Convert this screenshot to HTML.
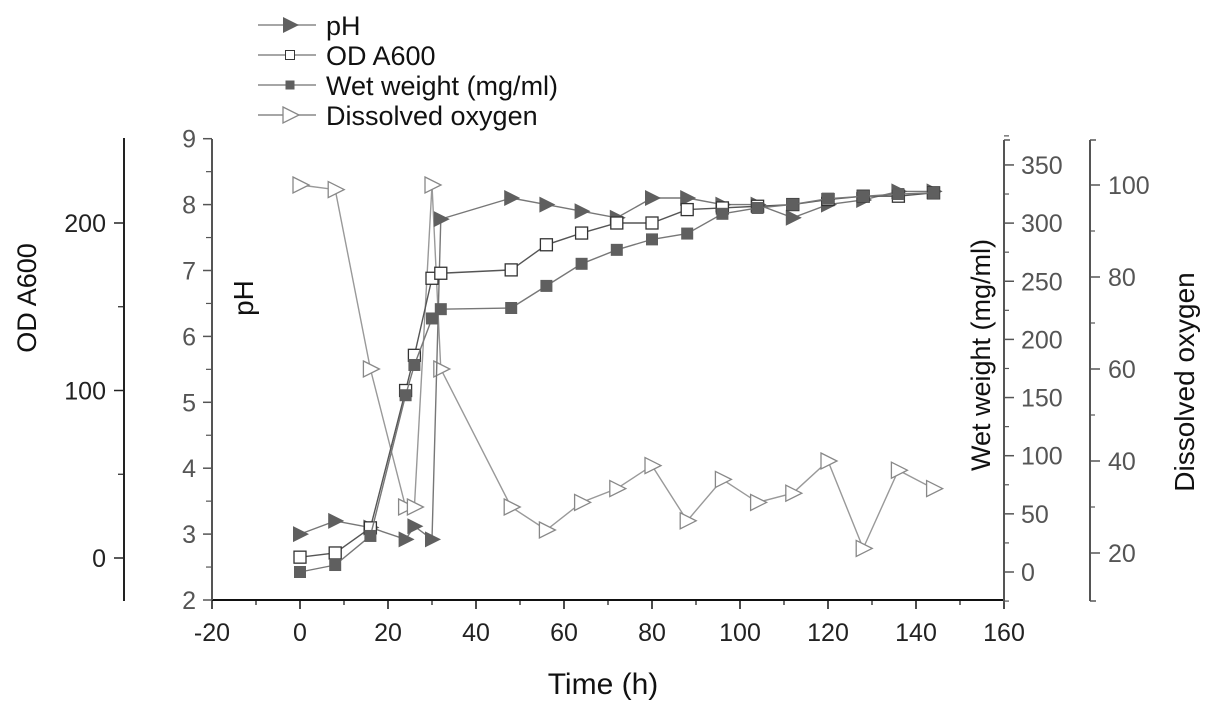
<!DOCTYPE html>
<html><head><meta charset="utf-8"><style>
body{margin:0;background:#fff;}
svg{display:block;font-family:"Liberation Sans",Arial,sans-serif;}
</style></head><body>
<svg id="chart" width="1205" height="709" viewBox="0 0 1205 709" xmlns="http://www.w3.org/2000/svg">
<g id="axes"></g>
<g id="series"></g>
<g id="legend"></g>
</svg>
<script>
const timeH = [0,8,16,24,26,30,32,48,56,64,72,80,88,96,104,112,120,128,136,144];
const pHVals = [3.0,3.2,3.1,2.92,3.12,2.92,7.78,8.1,8.0,7.9,7.8,8.1,8.1,8.0,8.0,7.8,8.0,8.07,8.2,8.2];
const odVals = [0.5,3,18,100,121,167,170,172,187,194,200,200,208,209,210,211,214,216,216,218];
const wwVals = [0,6,31,152,178,218,226,227,246,265,277,286,291,308,313,316,321,323,325,326];
const doTime = [0,8,16,24,26,30,32,48,56,64,72,80,88,96,104,112,120,128,136,144];
const doVals = [100,99,60,30,30,100,60,30,25,31,34,39,27,36,31,33,40,21,38,34];
const xTicks = [-20,0,20,40,60,80,100,120,140,160];
const pHTicks = [2,3,4,5,6,7,8,9];
const odTicks = [0,100,200];
const wwTicks = [0,50,100,150,200,250,300,350];
const doTicks = [20,40,60,80,100];

const NS="http://www.w3.org/2000/svg";
const X = t => 300 + (t)*4.4;
const YpH = v => 600 - (v-2)*65.9;
const YOD = v => 558 - v*1.675;
const YWW = v => 572 - v*1.163;
const YDO = v => 553 - (v-20)*4.6;
function mk(tag, attrs, parent){const e=document.createElementNS(NS,tag);for(const k in attrs)e.setAttribute(k,attrs[k]);parent.appendChild(e);return e;}
const axes=document.getElementById('axes'), ser=document.getElementById('series'), leg=document.getElementById('legend');
const AX='#555', TX='#555', FS=25;

// X axis
let e=mk('line',{x1:212,y1:600,x2:1004,y2:600,stroke:'#111','stroke-width':2},axes);

xTicks.forEach((t,i)=>{
  mk('line',{x1:X(t),y1:600,x2:X(t),y2:609,stroke:'#111','stroke-width':1.5},axes);
  if(i<xTicks.length-1) mk('line',{x1:X(t+10),y1:600,x2:X(t+10),y2:605,stroke:'#111','stroke-width':1.2},axes);
  const tx=mk('text',{x:X(t),y:641,'text-anchor':'middle','font-size':FS,fill:'#222'},axes);tx.textContent=t;
  
});
e=mk('text',{x:603,y:694,'text-anchor':'middle','font-size':30,fill:'#111'},axes);e.textContent='Time (h)';


// pH axis
e=mk('line',{x1:212,y1:139,x2:212,y2:600,stroke:AX,'stroke-width':2},axes);

pHTicks.forEach(v=>{
  mk('line',{x1:203,y1:YpH(v),x2:212,y2:YpH(v),stroke:AX,'stroke-width':1.5},axes);
  if(v<9) mk('line',{x1:206,y1:YpH(v+0.5),x2:212,y2:YpH(v+0.5),stroke:AX,'stroke-width':1.2},axes);
  const tx=mk('text',{x:196,y:YpH(v)+9,'text-anchor':'end','font-size':FS,fill:TX},axes);tx.textContent=v;
  
});
e=mk('text',{x:0,y:0,'text-anchor':'middle','font-size':28,fill:'#111',transform:'translate(253,298) rotate(-90)'},axes);e.textContent='pH';


// OD axis
e=mk('line',{x1:124,y1:138,x2:124,y2:601,stroke:'#222','stroke-width':2},axes);

odTicks.forEach(v=>{
  mk('line',{x1:114,y1:YOD(v),x2:124,y2:YOD(v),stroke:'#222','stroke-width':1.5},axes);
  if(v<200) mk('line',{x1:118,y1:YOD(v+50),x2:124,y2:YOD(v+50),stroke:'#222','stroke-width':1.2},axes);
  const tx=mk('text',{x:106,y:YOD(v)+9,'text-anchor':'end','font-size':FS,fill:'#222'},axes);tx.textContent=v;
  
});
e=mk('text',{x:0,y:0,'text-anchor':'middle','font-size':27,fill:'#111',transform:'translate(36,298) rotate(-90)'},axes);e.textContent='OD A600';


// Wet weight axis
e=mk('line',{x1:1004,y1:140,x2:1004,y2:603,stroke:AX,'stroke-width':2},axes);

mk('line',{x1:1004,y1:140,x2:1010,y2:140,stroke:AX,'stroke-width':1.5},axes);
wwTicks.forEach(v=>{
  mk('line',{x1:1004,y1:YWW(v),x2:1014,y2:YWW(v),stroke:AX,'stroke-width':1.5},axes);
  mk('line',{x1:1004,y1:YWW(v+25),x2:1009,y2:YWW(v+25),stroke:AX,'stroke-width':1.2},axes);
  const tx=mk('text',{x:1021,y:YWW(v)+9,'font-size':FS,fill:TX},axes);tx.textContent=v;
  
});
mk('line',{x1:1004,y1:YWW(-25),x2:1009,y2:YWW(-25),stroke:AX,'stroke-width':1.2},axes);
e=mk('text',{x:0,y:0,'text-anchor':'middle','font-size':27,fill:'#111',transform:'translate(990,355) rotate(-90)'},axes);e.textContent='Wet weight (mg/ml)';


// DO axis
e=mk('line',{x1:1090,y1:140,x2:1090,y2:601,stroke:AX,'stroke-width':2},axes);

mk('line',{x1:1090,y1:140,x2:1096,y2:140,stroke:AX,'stroke-width':1.5},axes);
mk('line',{x1:1090,y1:601,x2:1096,y2:601,stroke:AX,'stroke-width':1.5},axes);
doTicks.forEach(v=>{
  mk('line',{x1:1090,y1:YDO(v),x2:1100,y2:YDO(v),stroke:AX,'stroke-width':1.5},axes);
  if(v<100) mk('line',{x1:1090,y1:YDO(v+10),x2:1095,y2:YDO(v+10),stroke:AX,'stroke-width':1.2},axes);
  const tx=mk('text',{x:1108,y:YDO(v)+9,'font-size':FS,fill:TX},axes);tx.textContent=v;
  
});
e=mk('text',{x:0,y:0,'text-anchor':'middle','font-size':28,fill:'#111',transform:'translate(1194,382) rotate(-90)'},axes);e.textContent='Dissolved oxygen';


// markers
const MC='#5f5f5f';
function marker(type,x,y,p){
  if(type==='tri') return mk('polygon',{points:`${x-7},${y-8} ${x+9},${y} ${x-7},${y+8}`,fill:MC},p);
  if(type==='otri') return mk('polygon',{points:`${x-7},${y-8} ${x+9},${y} ${x-7},${y+8}`,fill:'#fff',stroke:'#888','stroke-width':1.3},p);
  if(type==='osq') return mk('rect',{x:x-6,y:y-6,width:12,height:12,fill:'#fff',stroke:'#333','stroke-width':1.3},p);
  return mk('rect',{x:x-6,y:y-6,width:12,height:12,fill:MC},p);
}
function series(name,xs,ys,yf,type,lc){
  const g=mk('g',{},ser);
  
  
  const pts=xs.map((t,i)=>X(t)+','+yf(ys[i])).join(' ');
  mk('polyline',{points:pts,fill:'none',stroke:lc,'stroke-width':1.4},g);
  xs.forEach((t,i)=>{
    const m=marker(type,X(t),yf(ys[i]),g);
    
    
  });
}
series('do-series',doTime,doVals,YDO,'otri','#999');
series('ph-series',timeH,pHVals,YpH,'tri','#777');
series('od-series',timeH,odVals,YOD,'osq','#555');
series('wet-weight-series',timeH,wwVals,YWW,'sq','#777');

// legend
const labels=['pH','OD A600','Wet weight (mg/ml)','Dissolved oxygen'];
const types=['tri','osq','sq','otri'];
const ly=[25,55,85,115];
labels.forEach((l,i)=>{
  const g=mk('g',{},leg);
  
  
  mk('line',{x1:258,y1:ly[i],x2:316,y2:ly[i],stroke:'#888','stroke-width':1.4},g);
  if(types[i]==='osq'||types[i]==='sq') marker(types[i],290,ly[i],g).setAttribute('transform',`translate(${290*0.25},${ly[i]*0.25}) scale(0.75)`);
  else marker(types[i],290,ly[i],g);
  const t=mk('text',{x:326,y:ly[i]+10,'font-size':27,fill:'#111'},g);t.textContent=l;
});
</script>
</body></html>
